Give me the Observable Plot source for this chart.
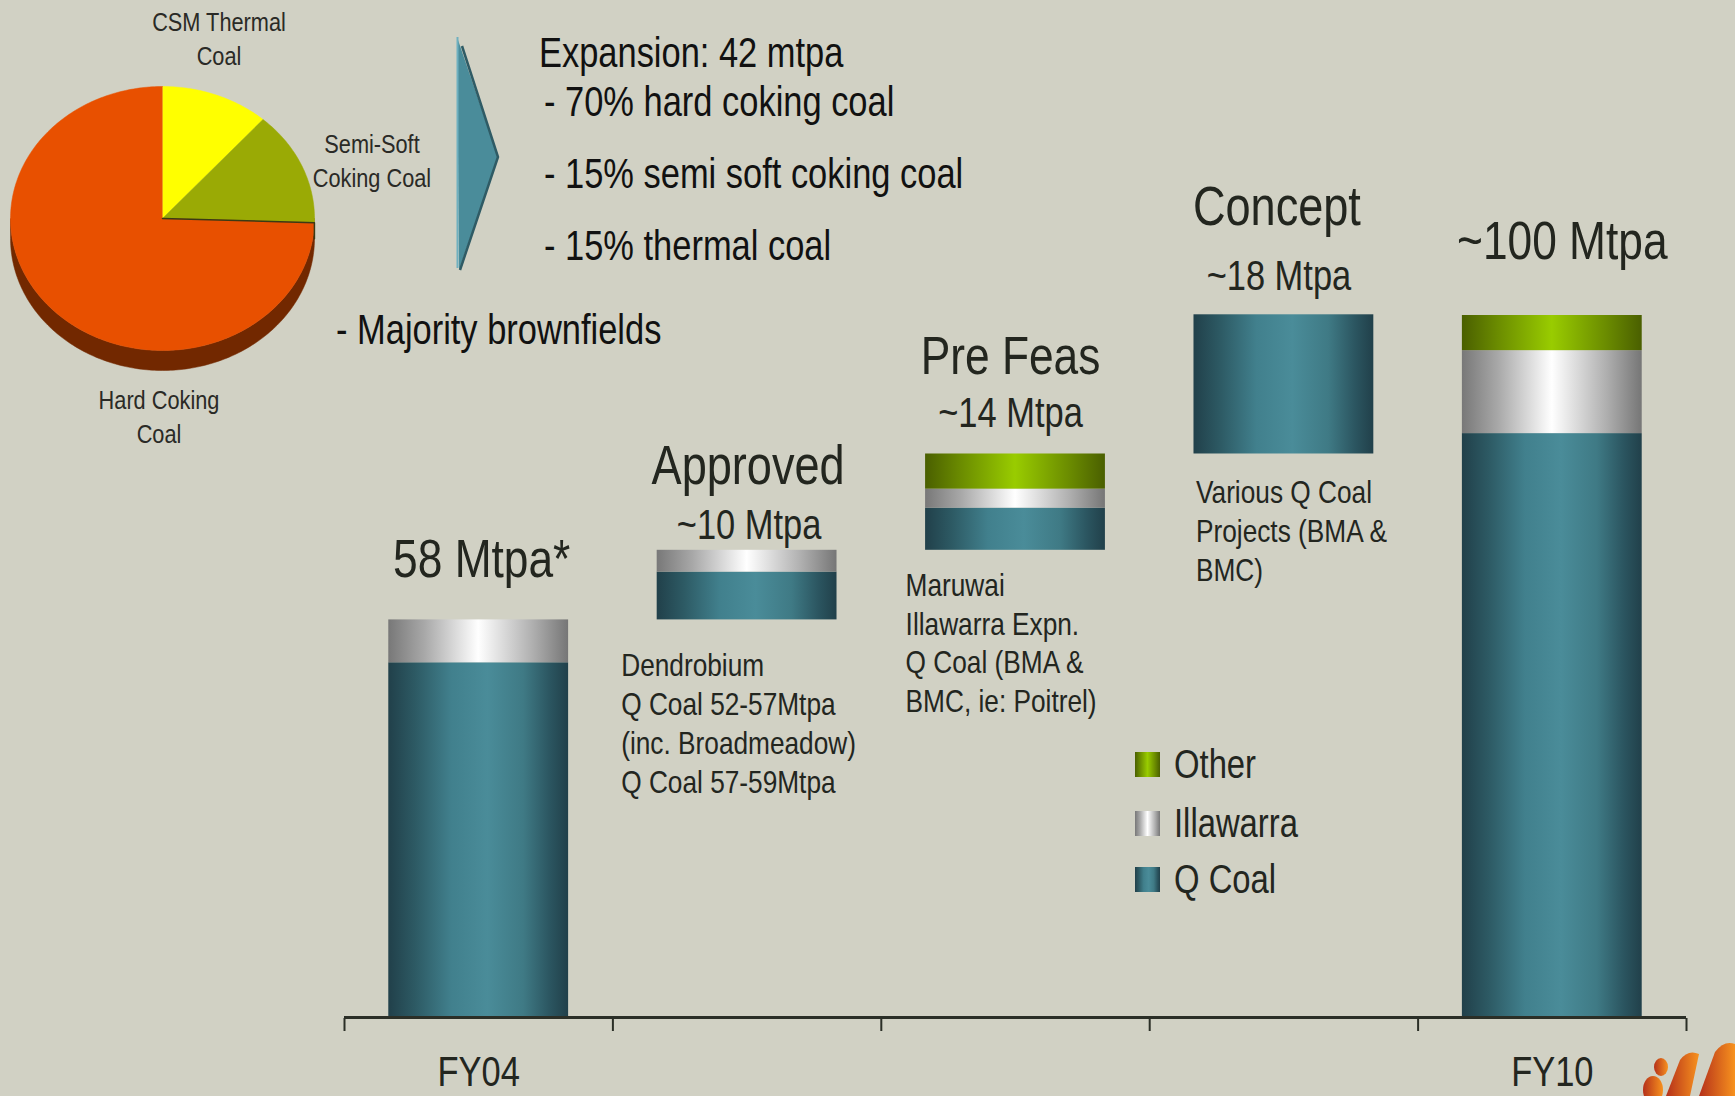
<!DOCTYPE html>
<html><head><meta charset="utf-8">
<script src="https://cdn.jsdelivr.net/npm/d3@7"></script>
<script src="https://cdn.jsdelivr.net/npm/@observablehq/plot@0.6"></script>
<style>
html,body{margin:0;padding:0;background:#d1d1c4;}
#root{position:relative;width:1735px;height:1096px;overflow:hidden;background:#d1d1c4;}
.abs{position:absolute;left:0;top:0;}
</style></head><body><div id="root"></div>
<script>
const FONT = '"Liberation Sans", Arial, sans-serif';
const NARROW = 0.82; // Arial Narrow width ratio
const INK = "#23261f";

// ---- data ----
const stages = ["FY04", "Approved", "Pre Feas", "Concept", "FY10"];
const isTotal = [true, false, false, false, true];
const seriesNames = ["Q Coal", "Illawarra", "Other"];
const qCoal = [50.6, 6.8, 6.0, 19.8, 83.2];
const illawarra = [6.1, 3.1, 2.7, 0, 11.8];
const other = [0, 0, 5.0, 0, 5.0];
const stageTitles = ["", "Approved", "Pre Feas", "Concept", ""];
const stageAmounts = ["58 Mtpa*", "~10 Mtpa", "~14 Mtpa", "~18 Mtpa", "~100 Mtpa"];
const stageNotes = ["",
  "Dendrobium\nQ Coal 52-57Mtpa\n(inc. Broadmeadow)\nQ Coal 57-59Mtpa",
  "Maruwai\nIllawarra Expn.\nQ Coal (BMA &\nBMC, ie: Poitrel)",
  "Various Q Coal\nProjects (BMA &\nBMC)", ""];
const xTickLabels = ["FY04", "", "", "", "FY10"];
const pieLabels = [["CSM Thermal", "Coal"], ["Semi-Soft", "Coking Coal"], ["Hard Coking", "Coal"]];
const pieShares = [11.5, 14, 74.5];
const pieColors = ["#ffff00", "#9aaa05", "#e85000"];
const expansionLines = ["Expansion: 42 mtpa", "- 70% hard coking coal", "- 15% semi soft coking coal", "- 15% thermal coal"];
const brownfieldsLine = "- Majority brownfields";

// ---- build stacked waterfall segments ----
const segs = [], stageInfo = [];
let running = 0;
stages.forEach((s, i) => {
  const base = isTotal[i] ? 0 : running;
  let y = base;
  [qCoal[i], illawarra[i], other[i]].forEach((v, k) => {
    if (v > 0) { segs.push({i, series: seriesNames[k], y1: y, y2: y + v}); y += v; }
  });
  stageInfo.push({i, base, top: y});
  running = y;
});

const gradId = {"Q Coal": "gQ", "Illawarra": "gI", "Other": "gO"};
const barMarks = seriesNames.map(name => Plot.rect(segs.filter(d => d.series === name), {
  x1: d => d.i + 0.165, x2: d => d.i + 0.835, y1: "y1", y2: "y2", fill: `url(#${gradId[name]})`
}));

const lab = (i, txt, fs, dy, dx = 0) => Plot.text([stageInfo[i]], {
  x: d => d.i + 0.5, y: "top", text: () => txt, fontSize: fs, dy, dx,
  lineAnchor: "bottom", textAnchor: "middle", fill: INK, fontFamily: FONT
});
const note = (i, dx, dy) => Plot.text([stageInfo[i]], {
  x: d => d.i + 0.165, y: "base", text: () => stageNotes[i], fontSize: 32, lineHeight: 1.21,
  dx, dy, lineAnchor: "top", textAnchor: "start", fill: INK, fontFamily: FONT
});

const main = Plot.plot({
  width: 1735, height: 1096,
  marginLeft: 344, marginRight: 49, marginTop: 315, marginBottom: 78,
  x: {domain: [0, 5], axis: null},
  y: {domain: [0, 100], axis: null},
  style: {background: "none", overflow: "visible"},
  marks: [
    ...barMarks,
    Plot.ruleY([0], {stroke: "#2b2f27", strokeWidth: 3, dy: -1}),
    Plot.axisX({ticks: [0, 1, 2, 3, 4, 5], tickSize: 13, tickFormat: () => "", stroke: "#2b2f27", strokeWidth: 2}),
    Plot.text(stages, {x: (d, i) => i + 0.5, y: () => 0, text: (d, i) => xTickLabels[i], dy: 67,
      lineAnchor: "bottom", fontSize: 42, fill: INK, fontFamily: FONT}),
    lab(0, stageAmounts[0], 54, -43, 3),
    lab(1, stageTitles[1], 55, -66, 1),
    lab(1, stageAmounts[1], 42, -11, 2),
    lab(2, stageTitles[2], 54, -80, -5),
    lab(2, stageAmounts[2], 42, -27, -5),
    lab(3, stageTitles[3], 55, -90, -7),
    lab(3, stageAmounts[3], 42, -25, -5),
    lab(4, stageAmounts[4], 54, -57, 10),
    note(1, -36, 29),
    note(2, -20, 18),
    note(3, 2, 22)
  ]
});
const grads = {
  gQ: [[0, "#21404a"], [0.15, "#2d5a64"], [0.35, "#41808d"], [0.55, "#4a8c99"], [0.75, "#3f7a85"], [0.9, "#2b5560"], [1, "#21404a"]],
  gI: [[0, "#787878"], [0.2, "#a8a8a8"], [0.5, "#ffffff"], [0.8, "#b0b0b0"], [1, "#767676"]],
  gO: [[0, "#4a5f00"], [0.2, "#6b8c00"], [0.5, "#99cc00"], [0.8, "#6b8c00"], [1, "#4a5f00"]]
};
function addDefs(svg) {
  const defs = d3.select(svg).insert("defs", ":first-child");
  for (const [id, stops] of Object.entries(grads)) {
    const g = defs.append("linearGradient").attr("id", id).attr("x1", 0).attr("x2", 1).attr("y1", 0).attr("y2", 0);
    stops.forEach(([o, c]) => g.append("stop").attr("offset", o).attr("stop-color", c));
  }
}
addDefs(main);
main.classList.add("abs");
const root = document.getElementById("root");
root.appendChild(main);

// ---- pie ----
const total = d3.sum(pieShares);
const rad = Math.PI / 180;
const pieRows = [];
let acc = 0;
const boundaries = [];
pieShares.forEach((v, s) => {
  const a0 = acc / total * 2 * Math.PI; acc += v; const a1 = acc / total * 2 * Math.PI;
  boundaries.push(a1);
  pieRows.push({s, x: 0, y: 0});
  const n = Math.ceil((a1 - a0) / rad);
  for (let k = 0; k <= n; k++) { const a = a0 + (a1 - a0) * k / n; pieRows.push({s, x: Math.sin(a), y: Math.cos(a)}); }
});
const depth = 20 / 132;
const side = [];
for (let a = 90; a <= 270; a++) side.push({x: Math.sin(a * rad), y: Math.cos(a * rad)});
for (let a = 270; a >= 90; a--) side.push({x: Math.sin(a * rad), y: Math.cos(a * rad) - depth});
const bEdge = boundaries[1];
const pie = Plot.plot({
  width: 340, height: 400, margin: 0,
  x: {domain: [-1, 1], range: [10, 314], axis: null},
  y: {domain: [-1, 1], range: [350, 86], axis: null},
  style: {background: "none", overflow: "visible"},
  marks: [
    Plot.line(side, {x: "x", y: "y", fill: "#722800", stroke: "#722800", strokeWidth: 0.5}),
    ...pieShares.map((v, s) => Plot.line(pieRows.filter(d => d.s === s), {x: "x", y: "y", fill: pieColors[s], stroke: pieColors[s], strokeWidth: 0.5})),
    Plot.line([{x: 0, y: 0}, {x: Math.sin(bEdge), y: Math.cos(bEdge)}, {x: Math.sin(bEdge), y: Math.cos(bEdge) - depth * 0.8}], {x: "x", y: "y", stroke: "#3b3a14", strokeWidth: 1.5})
  ]
});
pie.classList.add("abs");
root.appendChild(pie);

// ---- overlay: arrow, text block, pie labels, legend, logo ----
const ov = d3.select(root).append("svg").attr("class", "abs").attr("width", 1735).attr("height", 1096);
addDefs(ov.node());
const ld = ov.select("defs");
const lg = ld.append("linearGradient").attr("id", "gLogo").attr("x1", 0).attr("x2", 1).attr("y1", 0).attr("y2", 0);
lg.append("stop").attr("offset", 0).attr("stop-color", "#b5301a");
lg.append("stop").attr("offset", 1).attr("stop-color", "#f7921e");

// chevron arrow
ov.append("path").attr("d", "M457,37 L498,157 L459,270 Z").attr("fill", "#4a8c9a");
ov.append("path").attr("d", "M462,46 L498,157 L460,270").attr("fill", "none").attr("stroke", "#2f5b65").attr("stroke-width", 2.5);
ov.append("path").attr("d", "M457.5,37 L457.5,268").attr("stroke", "#6fb0c0").attr("stroke-width", 2);

const txt = (x, y, s, fs, anchor = "start") => ov.append("text").attr("x", x).attr("y", y)
  .attr("font-family", FONT).attr("font-size", fs).attr("fill", INK).attr("text-anchor", anchor).text(s);

txt(539, 67, expansionLines[0], 42, "start").attr("fill", "#111");
txt(544, 116, expansionLines[1], 42).attr("fill", "#111");
txt(544, 188, expansionLines[2], 42).attr("fill", "#111");
txt(544, 260, expansionLines[3], 42).attr("fill", "#111");
txt(336, 344, brownfieldsLine, 42).attr("fill", "#111");

// pie labels
const pieLabelPos = [[219, 31, 65], [372, 153, 187], [159, 409, 443]];
pieLabels.forEach((ls, i) => {
  const [x, y1, y2] = pieLabelPos[i];
  txt(x, y1, ls[0], 26.5, "middle").attr("fill", "#2a2a26");
  txt(x, y2, ls[1], 26.5, "middle").attr("fill", "#2a2a26");
});

// legend
const legendOrder = ["Other", "Illawarra", "Q Coal"];
const legendY = [752, 811, 867];
legendOrder.forEach((name, k) => {
  ov.append("rect").attr("x", 1135).attr("y", legendY[k]).attr("width", 25).attr("height", 25).attr("fill", `url(#${gradId[name]})`);
  txt(1174, legendY[k] + 26, name, 40);
});

// logo (approximate)
const logo = ov.append("g").attr("fill", "url(#gLogo)");
logo.append("ellipse").attr("cx", 1653).attr("cy", 1090).attr("rx", 10).attr("ry", 14);
logo.append("ellipse").attr("cx", 1661).attr("cy", 1067).attr("rx", 7).attr("ry", 9);
logo.append("path").attr("d", "M1666,1096 L1680,1060 Q1688,1049 1699,1054 L1690,1096 Z");
logo.append("path").attr("d", "M1699,1096 L1715,1052 Q1724,1040 1735,1044 L1735,1096 Z");

// ---- condense all text to Arial Narrow proportions ----
function condense(el) {
  const items = [];
  el.querySelectorAll("text").forEach(t => {
    const ts = t.querySelectorAll("tspan");
    if (ts.length) ts.forEach(s => items.push(s)); else items.push(t);
  });
  items.forEach(n => {
    const L = n.getComputedTextLength();
    if (L > 0) { n.setAttribute("textLength", (L * NARROW).toFixed(2)); n.setAttribute("lengthAdjust", "spacingAndGlyphs"); }
  });
}
condense(root);
</script></body></html>
